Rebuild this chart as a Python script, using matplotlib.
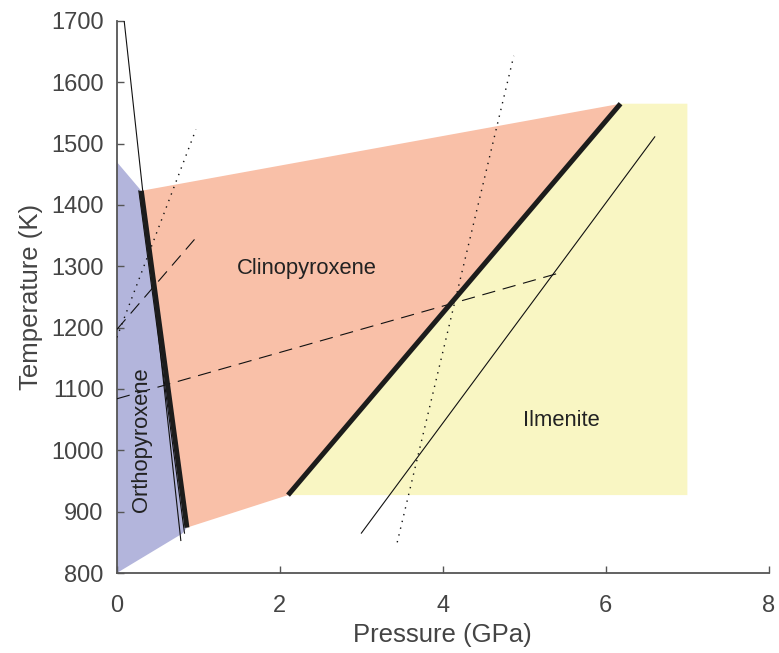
import matplotlib
matplotlib.use("Agg")
import matplotlib.pyplot as plt
from matplotlib.patches import Polygon

plt.rcParams['font.family'] = ['Liberation Sans', 'DejaVu Sans']

# Phase regions (pressure GPa, temperature K)
opx_P = [0.0, 0.0, 0.30, 0.86, 0.80]
opx_T = [800, 1470, 1423, 874, 864]
cpx_P = [0.30, 6.18, 2.10, 0.86]
cpx_T = [1423, 1565, 927, 874]
ilm_P = [2.10, 6.18, 7.0, 7.0]
ilm_T = [927, 1565, 1565, 927]

# Phase boundaries (thick)
b1_P = [0.30, 0.86]
b1_T = [1423, 874]
b2_P = [2.10, 6.18]
b2_T = [927, 1565]

# Thin solid lines
s1_P = [0.09, 0.785]
s1_T = [1700, 853]
s2_P = [0.27, 0.83]
s2_T = [1423, 865]
s3_P = [3.0, 6.6]
s3_T = [865, 1511]

# Dashed lines
d1_P = [0.0, 0.98]
d1_T = [1197, 1348]
d2_P = [0.0, 5.40]
d2_T = [1084, 1288]

# Dotted lines
o1_P = [0.0, 0.97]
o1_T = [1184, 1523]
o2_P = [3.44, 4.87]
o2_T = [850, 1643]

xticks = [0, 2, 4, 6, 8]
yticks = [800, 900, 1000, 1100, 1200, 1300, 1400, 1500, 1600, 1700]

fig = plt.figure(figsize=(7.79, 6.53), dpi=100)
ax = fig.add_axes([0.150, 0.1225, 0.837, 0.8455])

ax.add_patch(Polygon(list(zip(opx_P, opx_T)), closed=True, facecolor='#b3b5dc', edgecolor='none', zorder=1))
ax.add_patch(Polygon(list(zip(cpx_P, cpx_T)), closed=True, facecolor='#f9c0a8', edgecolor='none', zorder=1))
ax.add_patch(Polygon(list(zip(ilm_P, ilm_T)), closed=True, facecolor='#f9f6c3', edgecolor='none', zorder=1))

ax.plot(s1_P, s1_T, color='#111111', lw=0.8, zorder=3)
ax.plot(s2_P, s2_T, color='#111111', lw=0.8, zorder=3)
ax.plot(s3_P, s3_T, color='#111111', lw=0.8, zorder=3)
ax.plot(d1_P, d1_T, color='#111111', lw=0.8, dashes=(12, 7), zorder=3)
ax.plot(d2_P, d2_T, color='#111111', lw=0.8, dashes=(12, 7), zorder=3)
ax.plot(o1_P, o1_T, color='#111111', lw=1.0, dashes=(1, 4), zorder=3)
ax.plot(o2_P, o2_T, color='#111111', lw=1.0, dashes=(1, 4), zorder=3)

ax.plot(b1_P, b1_T, color='#1c1c1c', lw=3.6, zorder=4, solid_capstyle='butt')
ax.plot(b2_P, b2_T, color='#1c1c1c', lw=3.6, zorder=4, solid_capstyle='butt')

ax.text(2.33, 1297, 'Clinopyroxene', fontsize=15.8, color='#222222', ha='center', va='center', zorder=5)
ax.text(5.46, 1048, 'Ilmenite', fontsize=15.8, color='#222222', ha='center', va='center', zorder=5)
ax.text(0.30, 1017, 'Orthopyroxene', fontsize=15.8, color='#222222', ha='center', va='center',
        rotation=90, zorder=5)

ax.set_xlim(0, 8)
ax.set_ylim(800, 1700)
ax.set_xticks(xticks)
ax.set_yticks(yticks)
ax.tick_params(direction='in', length=5, width=1, colors='#555555', labelsize=17,
               labelcolor='#444444')
ax.tick_params(axis='y', pad=9.5)
ax.tick_params(axis='x', pad=16)
for s in ['top', 'right']:
    ax.spines[s].set_visible(False)
for s in ['left', 'bottom']:
    ax.spines[s].set_color('#555555')
    ax.spines[s].set_linewidth(1.3)
ax.set_xlabel('Pressure (GPa)', fontsize=18.5, color='#444444', labelpad=4.5)
ax.set_ylabel('Temperature (K)', fontsize=18.5, color='#444444', labelpad=6)

fig.savefig('out.png', dpi=100)
